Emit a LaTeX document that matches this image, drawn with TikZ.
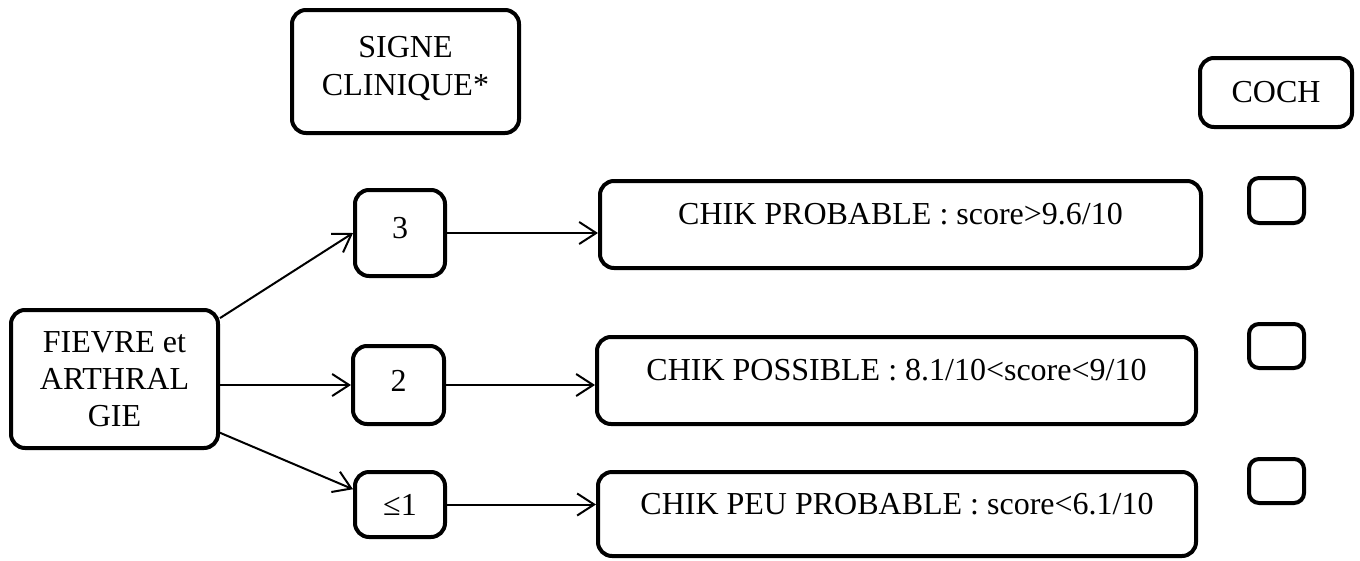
\documentclass[tikz,border=0pt]{standalone}
\usepackage{fontspec}
\setmainfont{Liberation Serif}
\usetikzlibrary{arrows.meta,calc}
\begin{document}
\begin{tikzpicture}[x=1pt,y=-1pt,
  txt/.style={align=center,font=\fontsize{32}{38}\selectfont},
  box/.style={draw,line width=4pt,rounded corners=14pt,inner sep=0pt,txt},
  res/.style={box,text height=16pt,text depth=16pt},
  conn/.style={line width=2pt,-{Straight Barb[length=17pt,width=22pt,line width=2pt]}}]
\useasboundingbox (0,0) rectangle (1360,560);
\node[box,minimum width=227pt,minimum height=123pt,
  label={[txt,yshift=3pt]center:SIGNE\\CLINIQUE*}] (signe) at (405.5,71.5) {};
\node[box,minimum width=152pt,minimum height=69pt] (coch) at (1276,92.5) {COCH};
\node[box,minimum width=207pt,minimum height=138pt,font=\fontsize{32}{37}\selectfont] (fievre) at (114.5,379) {FIEVRE et\\ARTHRAL\\GIE};
\node[box,minimum width=90pt,minimum height=86pt,text height=22pt,text depth=12pt] (n3) at (400,233) {3};
\node[box,minimum width=91pt,minimum height=78pt,text height=22pt,text depth=10pt] (n2) at (398.5,385) {2};
\node[box,minimum width=90pt,minimum height=65pt] (n1) at (400,504.5) {≤1};
\node[res,minimum width=601pt,minimum height=87pt] (p1) at (900.5,224.5) {CHIK PROBABLE : score>9.6/10};
\node[res,minimum width=599pt,minimum height=87pt] (p2) at (896.5,380.5) {CHIK POSSIBLE : 8.1/10<score<9/10};
\node[res,minimum width=598pt,minimum height=84pt] (p3) at (897,514) {CHIK PEU PROBABLE : score<6.1/10};
\node[box,rounded corners=10pt,minimum width=55pt,minimum height=45pt] (c1) at (1276.5,200.5) {};
\node[box,rounded corners=10pt,minimum width=55pt,minimum height=44pt] (c2) at (1276.5,346) {};
\node[box,rounded corners=10pt,minimum width=55pt,minimum height=44pt] (c3) at (1276.5,481) {};
\draw[conn] (fievre.30) -- (n3.west);
\draw[conn] (fievre.east |- n2.west) -- (n2.west);
\draw[conn] (fievre.-27) -- (n1.162);
\draw[conn] (n3.east) -- (n3.east -| p1.west);
\draw[conn] (n2.east) -- (n2.east -| p2.west);
\draw[conn] (n1.east) -- (n1.east -| p3.west);
\end{tikzpicture}
\end{document}
